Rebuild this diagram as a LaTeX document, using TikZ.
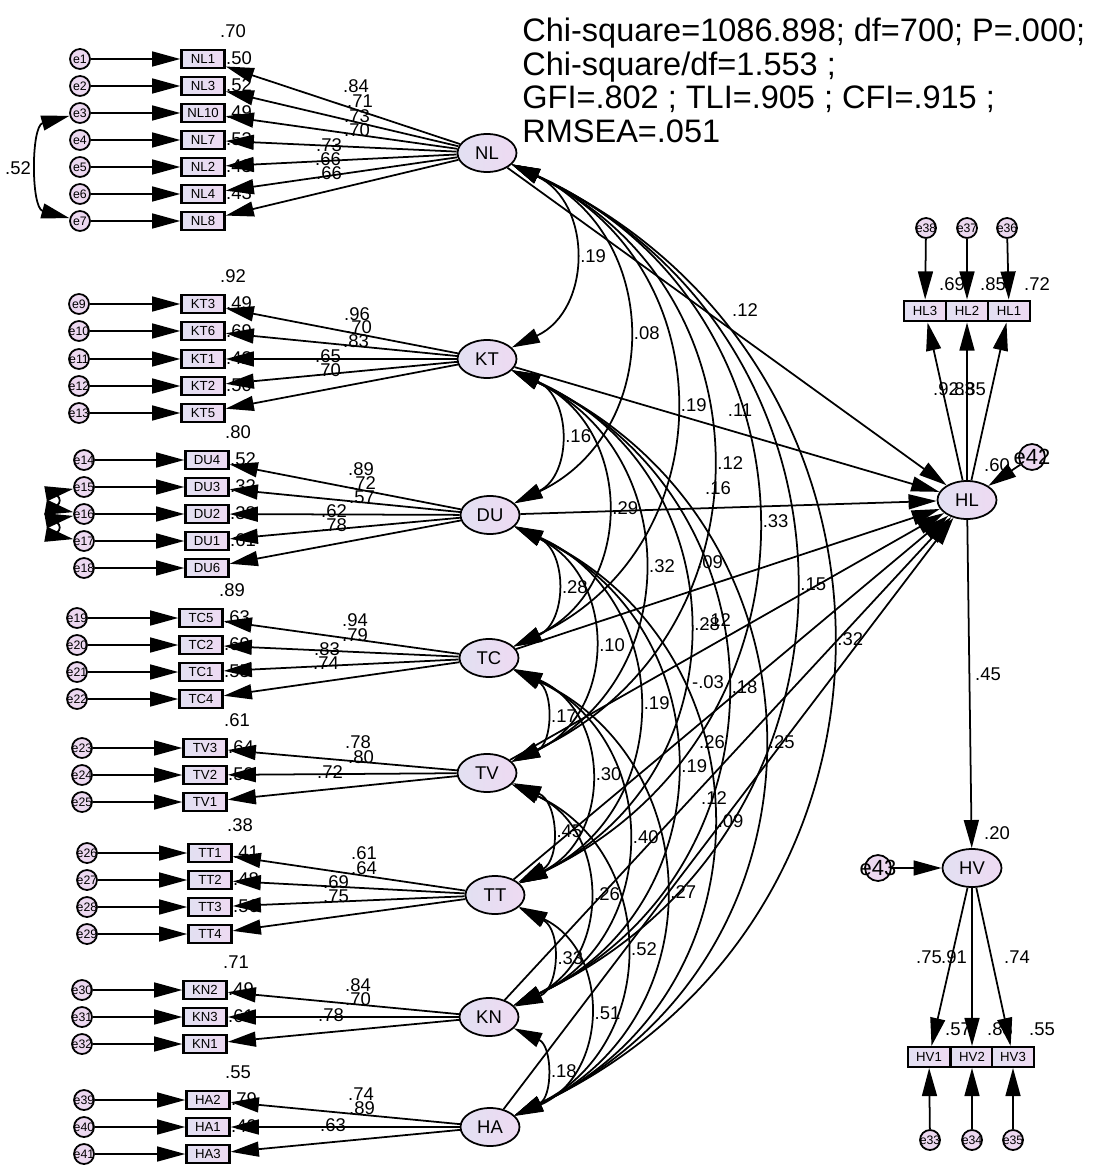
\documentclass[tikz,border=0pt]{standalone}
\usepackage{fontspec}
\setmainfont{Liberation Sans}
\usetikzlibrary{arrows.meta,shapes.geometric}
\definecolor{latA}{RGB}{226,224,242}
\definecolor{latB}{RGB}{238,218,242}
\definecolor{errfill}{RGB}{236,216,240}
\newcommand{\ename}[1]{\makebox[0pt]{#1}}
\tikzset{
  latent/.style={ellipse, draw, line width=1pt, left color=latA, right color=latB, minimum width=1.18cm, minimum height=0.76cm, inner sep=0pt, font=\fontsize{10.5}{11}\selectfont},
  indic/.style={rectangle, draw, line width=1.4pt, left color=latA, right color=latB, minimum width=0.86cm, minimum height=0.37cm, inner sep=0pt, font=\fontsize{7.5}{8}\selectfont},
  err/.style={circle, draw, line width=1pt, fill=errfill, minimum size=0.4cm, inner sep=0pt, font=\fontsize{7}{7}\selectfont},
  bigerr/.style={err, minimum size=0.52cm, font=\fontsize{12.5}{13}\selectfont},
  reg/.style={line width=1pt, -{Triangle[length=16pt,width=8.5pt]}},
  cov/.style={line width=1pt, {Triangle[length=16pt,width=8.5pt]}-{Triangle[length=16pt,width=8.5pt]}},
  corr/.style={cov, bend left=65, looseness=1.25},
  est/.style={font=\fontsize{10.5}{11}\selectfont, inner sep=0pt},
  covlab/.style={est, pos=0.5, anchor=west, xshift=4pt},
  fit/.style={anchor=base west, inner sep=0pt, font=\fontsize{18.5}{19}\selectfont},
}
\begin{document}
\begin{tikzpicture}[x=0.02cm, y=-0.02cm]
  \useasboundingbox (0,0) rectangle (1102,1168);

  % fit indices
  \node[fit] (fit1) at (522,42) {Chi-square=1086.898; df=700; P=.000;};
  \node[fit] (fit2) at (522,76) {Chi-square/df=1.553 ;};
  \node[fit] (fit3) at (522,109) {GFI=.802 ; TLI=.905 ; CFI=.915 ;};
  \node[fit] (fit4) at (522,143) {RMSEA=.051};

  % latent variables
  \node[latent] (NL) at (487,153) {NL};
  \node[latent] (KT) at (487,359) {KT};
  \node[latent] (DU) at (490,515) {DU};
  \node[latent] (TC) at (489,658) {TC};
  \node[latent] (TV) at (487,773) {TV};
  \node[latent] (TT) at (495,895) {TT};
  \node[latent] (KN) at (489,1017) {KN};
  \node[latent] (HA) at (490,1127) {HA};
  \node[latent] (HL) at (967,500) {HL};
  \node[latent] (HV) at (972,868) {HV};

  % NL block
  \node[est] at (233,31) {.70};
  \node[est] at (239,58) {.50};
  \node[est] at (239,85) {.52};
  \node[est] at (239,112) {.49};
  \node[est] at (239,139) {.53};
  \node[est] at (239,166) {.43};
  \node[est] at (239,193) {.43};
  \node[indic] (NL1) at (203,59) {NL1};
  \node[indic] (NL3) at (203,86) {NL3};
  \node[indic] (NL10) at (203,113) {NL10};
  \node[indic] (NL7) at (203,140) {NL7};
  \node[indic] (NL2) at (203,167) {NL2};
  \node[indic] (NL4) at (203,194) {NL4};
  \node[indic] (NL8) at (203,221) {NL8};
  \node[err] (e1) at (80,59) {\ename{e1}};
  \node[err] (e2) at (80,86) {\ename{e2}};
  \node[err] (e3) at (80,113) {\ename{e3}};
  \node[err] (e4) at (80,140) {\ename{e4}};
  \node[err] (e5) at (80,167) {\ename{e5}};
  \node[err] (e6) at (80,194) {\ename{e6}};
  \node[err] (e7) at (80,221) {\ename{e7}};
  \draw[reg] (e1) -- (NL1);
  \draw[reg] (e2) -- (NL3);
  \draw[reg] (e3) -- (NL10);
  \draw[reg] (e4) -- (NL7);
  \draw[reg] (e5) -- (NL2);
  \draw[reg] (e6) -- (NL4);
  \draw[reg] (e7) -- (NL8);
  \draw[reg] (NL) -- (NL1);
  \draw[reg] (NL) -- (NL3);
  \draw[reg] (NL) -- (NL10);
  \draw[reg] (NL) -- (NL7);
  \draw[reg] (NL) -- (NL2);
  \draw[reg] (NL) -- (NL4);
  \draw[reg] (NL) -- (NL8);
  \draw[cov, bend right=75] (e3) to (e7);
  \node[est] at (18,168) {.52};
  \node[est] at (356,86) {.84};
  \node[est] at (360,101) {.71};
  \node[est] at (357,116) {.73};
  \node[est] at (357,130) {.70};
  \node[est] at (329,145) {.73};
  \node[est] at (328,159) {.66};
  \node[est] at (329,173) {.66};

  % KT block
  \node[est] at (233,276) {.92};
  \node[est] at (239,303) {.49};
  \node[est] at (239,331) {.69};
  \node[est] at (239,358) {.42};
  \node[est] at (239,385) {.50};
  \node[indic] (KT3) at (203,304) {KT3};
  \node[indic] (KT6) at (203,331) {KT6};
  \node[indic] (KT1) at (203,359) {KT1};
  \node[indic] (KT2) at (203,386) {KT2};
  \node[indic] (KT5) at (203,413) {KT5};
  \node[err] (e9) at (79,304) {\ename{e9}};
  \node[err] (e10) at (79,331) {\ename{e10}};
  \node[err] (e11) at (79,359) {\ename{e11}};
  \node[err] (e12) at (79,386) {\ename{e12}};
  \node[err] (e13) at (79,413) {\ename{e13}};
  \draw[reg] (e9) -- (KT3);
  \draw[reg] (e10) -- (KT6);
  \draw[reg] (e11) -- (KT1);
  \draw[reg] (e12) -- (KT2);
  \draw[reg] (e13) -- (KT5);
  \draw[reg] (KT) -- (KT3);
  \draw[reg] (KT) -- (KT6);
  \draw[reg] (KT) -- (KT1);
  \draw[reg] (KT) -- (KT2);
  \draw[reg] (KT) -- (KT5);
  \node[est] at (357,314) {.96};
  \node[est] at (359,327) {.70};
  \node[est] at (356,341) {.83};
  \node[est] at (328,356) {.65};
  \node[est] at (328,370) {.70};

  % DU block
  \node[est] at (238,432) {.80};
  \node[est] at (243,459) {.52};
  \node[est] at (243,486) {.32};
  \node[est] at (243,513) {.38};
  \node[est] at (243,540) {.61};
  \node[indic] (DU4) at (207,460) {DU4};
  \node[indic] (DU3) at (207,487) {DU3};
  \node[indic] (DU2) at (207,514) {DU2};
  \node[indic] (DU1) at (207,541) {DU1};
  \node[indic] (DU6) at (207,568) {DU6};
  \node[err] (e14) at (84,460) {\ename{e14}};
  \node[err] (e15) at (84,487) {\ename{e15}};
  \node[err] (e16) at (84,514) {\ename{e16}};
  \node[err] (e17) at (84,541) {\ename{e17}};
  \node[err] (e18) at (84,568) {\ename{e18}};
  \draw[reg] (e14) -- (DU4);
  \draw[reg] (e15) -- (DU3);
  \draw[reg] (e16) -- (DU2);
  \draw[reg] (e17) -- (DU1);
  \draw[reg] (e18) -- (DU6);
  \draw[reg] (DU) -- (DU4);
  \draw[reg] (DU) -- (DU3);
  \draw[reg] (DU) -- (DU2);
  \draw[reg] (DU) -- (DU1);
  \draw[reg] (DU) -- (DU6);
  \draw[cov, bend right=80] (e15) to (e16);
  \draw[cov, bend right=80] (e16) to (e17);
  \node[est] at (361,469) {.89};
  \node[est] at (363,483) {.72};
  \node[est] at (362,497) {.57};
  \node[est] at (334,511) {.62};
  \node[est] at (334,525) {.78};

  % TC block
  \node[est] at (232,590) {.89};
  \node[est] at (237,617) {.63};
  \node[est] at (237,644) {.69};
  \node[est] at (237,671) {.55};
  \node[indic] (TC5) at (201,618) {TC5};
  \node[indic] (TC2) at (201,645) {TC2};
  \node[indic] (TC1) at (201,672) {TC1};
  \node[indic] (TC4) at (201,699) {TC4};
  \node[err] (e19) at (77,618) {\ename{e19}};
  \node[err] (e20) at (77,645) {\ename{e20}};
  \node[err] (e21) at (77,672) {\ename{e21}};
  \node[err] (e22) at (77,699) {\ename{e22}};
  \draw[reg] (e19) -- (TC5);
  \draw[reg] (e20) -- (TC2);
  \draw[reg] (e21) -- (TC1);
  \draw[reg] (e22) -- (TC4);
  \draw[reg] (TC) -- (TC5);
  \draw[reg] (TC) -- (TC2);
  \draw[reg] (TC) -- (TC1);
  \draw[reg] (TC) -- (TC4);
  \node[est] at (355,620) {.94};
  \node[est] at (355,635) {.79};
  \node[est] at (327,649) {.83};
  \node[est] at (326,663) {.74};

  % TV block
  \node[est] at (237,720) {.61};
  \node[est] at (241,747) {.64};
  \node[est] at (241,774) {.52};
  \node[indic] (TV3) at (205,748) {TV3};
  \node[indic] (TV2) at (205,775) {TV2};
  \node[indic] (TV1) at (205,802) {TV1};
  \node[err] (e23) at (82,748) {\ename{e23}};
  \node[err] (e24) at (82,775) {\ename{e24}};
  \node[err] (e25) at (82,802) {\ename{e25}};
  \draw[reg] (e23) -- (TV3);
  \draw[reg] (e24) -- (TV2);
  \draw[reg] (e25) -- (TV1);
  \draw[reg] (TV) -- (TV3);
  \draw[reg] (TV) -- (TV2);
  \draw[reg] (TV) -- (TV1);
  \node[est] at (358,742) {.78};
  \node[est] at (361,757) {.80};
  \node[est] at (330,772) {.72};

  % TT block
  \node[est] at (240,825) {.38};
  \node[est] at (246,852) {.41};
  \node[est] at (246,879) {.48};
  \node[est] at (246,906) {.56};
  \node[indic] (TT1) at (210,853) {TT1};
  \node[indic] (TT2) at (210,880) {TT2};
  \node[indic] (TT3) at (210,907) {TT3};
  \node[indic] (TT4) at (210,934) {TT4};
  \node[err] (e26) at (87,853) {\ename{e26}};
  \node[err] (e27) at (87,880) {\ename{e27}};
  \node[err] (e28) at (87,907) {\ename{e28}};
  \node[err] (e29) at (87,934) {\ename{e29}};
  \draw[reg] (e26) -- (TT1);
  \draw[reg] (e27) -- (TT2);
  \draw[reg] (e28) -- (TT3);
  \draw[reg] (e29) -- (TT4);
  \draw[reg] (TT) -- (TT1);
  \draw[reg] (TT) -- (TT2);
  \draw[reg] (TT) -- (TT3);
  \draw[reg] (TT) -- (TT4);
  \node[est] at (364,853) {.61};
  \node[est] at (364,868) {.64};
  \node[est] at (336,882) {.69};
  \node[est] at (336,896) {.75};

  % KN block
  \node[est] at (236,962) {.71};
  \node[est] at (241,989) {.49};
  \node[est] at (241,1016) {.61};
  \node[indic] (KN2) at (205,990) {KN2};
  \node[indic] (KN3) at (205,1017) {KN3};
  \node[indic] (KN1) at (205,1044) {KN1};
  \node[err] (e30) at (82,990) {\ename{e30}};
  \node[err] (e31) at (82,1017) {\ename{e31}};
  \node[err] (e32) at (82,1044) {\ename{e32}};
  \draw[reg] (e30) -- (KN2);
  \draw[reg] (e31) -- (KN3);
  \draw[reg] (e32) -- (KN1);
  \draw[reg] (KN) -- (KN2);
  \draw[reg] (KN) -- (KN3);
  \draw[reg] (KN) -- (KN1);
  \node[est] at (358,985) {.84};
  \node[est] at (358,999) {.70};
  \node[est] at (331,1015) {.78};

  % HA block
  \node[est] at (238,1072) {.55};
  \node[est] at (244,1099) {.79};
  \node[est] at (244,1126) {.40};
  \node[indic] (HA2) at (208,1100) {HA2};
  \node[indic] (HA1) at (208,1127) {HA1};
  \node[indic] (HA3) at (208,1154) {HA3};
  \node[err] (e39) at (84,1100) {\ename{e39}};
  \node[err] (e40) at (84,1127) {\ename{e40}};
  \node[err] (e41) at (84,1154) {\ename{e41}};
  \draw[reg] (e39) -- (HA2);
  \draw[reg] (e40) -- (HA1);
  \draw[reg] (e41) -- (HA3);
  \draw[reg] (HA) -- (HA2);
  \draw[reg] (HA) -- (HA1);
  \draw[reg] (HA) -- (HA3);
  \node[est] at (361,1094) {.74};
  \node[est] at (362,1108) {.89};
  \node[est] at (333,1125) {.63};

  % correlations between the eight factors
  \draw[corr] (NL) to node[covlab] {.19} (KT);
  \draw[corr] (KT) to node[covlab] {.16} (DU);
  \draw[corr] (DU) to node[covlab] {.28} (TC);
  \draw[corr] (TC) to node[covlab] {.17} (TV);
  \draw[corr] (TV) to node[covlab] {.45} (TT);
  \draw[corr] (TT) to node[covlab] {.33} (KN);
  \draw[corr] (KN) to node[covlab] {.18} (HA);
  \draw[corr] (NL) to node[covlab] {.08} (DU);
  \draw[corr] (KT) to node[covlab] {.29} (TC);
  \draw[corr] (DU) to node[covlab] {.10} (TV);
  \draw[corr] (TC) to node[covlab] {.30} (TT);
  \draw[corr] (TV) to node[covlab] {.26} (KN);
  \draw[corr] (TT) to node[covlab] {.51} (HA);
  \draw[corr] (NL) to node[covlab] {.19} (TC);
  \draw[corr] (KT) to node[covlab] {.32} (TV);
  \draw[corr] (DU) to node[covlab] {.19} (TT);
  \draw[corr] (TC) to node[covlab] {.40} (KN);
  \draw[corr] (TV) to node[covlab] {.52} (HA);
  \draw[corr] (NL) to node[covlab] {.12} (TV);
  \draw[corr] (KT) to node[covlab] {.28} (TT);
  \draw[corr] (DU) to node[covlab] {.19} (KN);
  \draw[corr] (TC) to node[covlab] {.27} (HA);
  \draw[corr] (NL) to node[covlab] {.33} (TT);
  \draw[corr] (KT) to node[covlab] {.18} (KN);
  \draw[corr] (DU) to node[covlab] {.09} (HA);
  \draw[corr] (NL) to node[covlab] {.15} (KN);
  \draw[corr] (KT) to node[covlab] {.25} (HA);
  \draw[corr] (NL) to node[covlab] {.32} (HA);

  % paths into HL
  \draw[reg] (NL) -- (HL);
  \draw[reg] (KT) -- (HL);
  \draw[reg] (DU) -- (HL);
  \draw[reg] (TC) -- (HL);
  \draw[reg] (TV) -- (HL);
  \draw[reg] (TT) -- (HL);
  \draw[reg] (KN) -- (HL);
  \draw[reg] (HA) -- (HL);
  \node[est] at (745,310) {.12};
  \node[est] at (740,410) {.11};
  \node[est] at (718,488) {.16};
  \node[est] at (710,562) {.09};
  \node[est] at (718,620) {.12};
  \node[est] at (708,682) {-.03};
  \node[est] at (712,742) {.26};
  \node[est] at (714,798) {.12};

  % HL block
  \node[est] at (952,284) {.69};
  \node[est] at (993,284) {.85};
  \node[est] at (1037,284) {.72};
  \node[indic, minimum width=0.84cm, minimum height=0.41cm] (HL3) at (925,311) {HL3};
  \node[indic, minimum width=0.84cm, minimum height=0.41cm] (HL2) at (967,311) {HL2};
  \node[indic, minimum width=0.84cm, minimum height=0.41cm] (HL1) at (1009,311) {HL1};
  \node[err] (e38) at (926,228) {\ename{e38}};
  \node[err] (e37) at (967,228) {\ename{e37}};
  \node[err] (e36) at (1007,228) {\ename{e36}};
  \draw[reg] (e38) -- (HL3);
  \draw[reg] (e37) -- (HL2);
  \draw[reg] (e36) -- (HL1);
  \draw[reg] (HL) -- (HL3);
  \draw[reg] (HL) -- (HL2);
  \draw[reg] (HL) -- (HL1);
  \node[est] at (946,389) {.92};
  \node[est] at (962,389) {.83};
  \node[est] at (973,389) {.85};
  \node[est] at (997,465) {.60};
  \node[bigerr] (e42) at (1032,457) {\ename{e42}};
  \draw[reg] (e42) -- (HL);

  % HV block
  \draw[reg] (HL) -- (HV);
  \node[est] at (988,674) {.45};
  \node[est] at (997,833) {.20};
  \node[bigerr] (e43) at (878,868) {\ename{e43}};
  \draw[reg] (e43) -- (HV);
  \node[est] at (958,1029) {.57};
  \node[est] at (1000,1029) {.83};
  \node[est] at (1042,1029) {.55};
  \node[indic, minimum width=0.84cm, minimum height=0.39cm] (HV1) at (929,1057) {HV1};
  \node[indic, minimum width=0.84cm, minimum height=0.39cm] (HV2) at (972,1057) {HV2};
  \node[indic, minimum width=0.84cm, minimum height=0.39cm] (HV3) at (1013,1057) {HV3};
  \node[err] (e33) at (930,1140) {\ename{e33}};
  \node[err] (e34) at (972,1140) {\ename{e34}};
  \node[err] (e35) at (1013,1140) {\ename{e35}};
  \draw[reg] (e33) -- (HV1);
  \draw[reg] (e34) -- (HV2);
  \draw[reg] (e35) -- (HV3);
  \draw[reg] (HV) -- (HV1);
  \draw[reg] (HV) -- (HV2);
  \draw[reg] (HV) -- (HV3);
  \node[est] at (929,957) {.75};
  \node[est] at (954,957) {.91};
  \node[est] at (1017,957) {.74};
\end{tikzpicture}
\end{document}
